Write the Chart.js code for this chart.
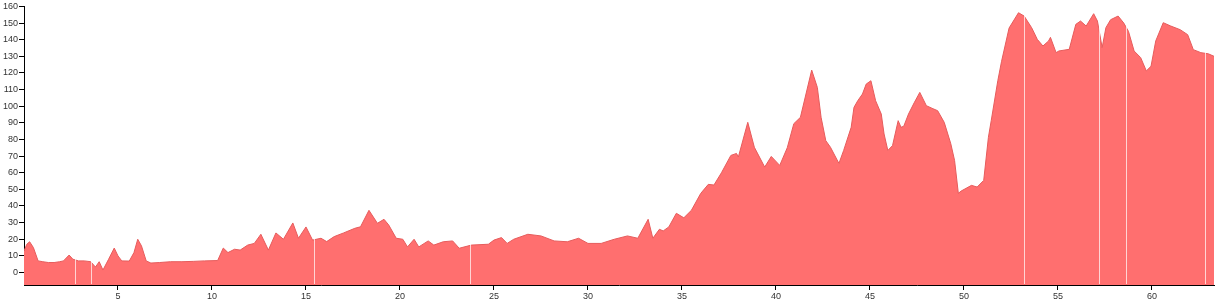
<!DOCTYPE html>
<html>

<head>
    <title>Profile</title>
    <script src="https://cdn.jsdelivr.net/npm/chart.js"></script>
    <style>
        body { margin: 0; background: #fff; }
        #wrap { width: 1217px; height: 306px; }
    </style>
</head>

<body>
    <div id="wrap">
        <canvas id="area-chart" width="1217" height="306"></canvas>
    </div>

    <script>
        // distance along the x axis
        var distances = [0.0, 0.15, 0.3, 0.5, 0.75, 1.0, 1.3, 1.6, 1.9, 2.1, 2.4, 2.6, 2.9, 3.2, 3.55, 3.8, 4.0, 4.2, 4.5, 4.8,
            5.0, 5.2, 5.6, 5.85, 6.05, 6.25, 6.5, 6.75, 7.2, 7.8, 8.4, 9.0, 9.6, 10.3, 10.6, 10.85, 11.2, 11.5, 11.9, 12.25,
            12.6, 13.0, 13.4, 13.8, 14.3, 14.6, 15.0, 15.35, 15.8, 16.1, 16.5, 17.0, 17.6, 17.9, 18.35, 18.8, 19.15, 19.4, 19.8, 20.15,
            20.4, 20.75, 21.0, 21.5, 21.8, 22.3, 22.8, 23.15, 23.8, 24.7, 25.0, 25.4, 25.7, 26.05, 26.8, 27.5, 28.2, 28.9, 29.5, 30.0,
            30.7, 31.4, 32.1, 32.65, 33.2, 33.45, 33.8, 34.0, 34.3, 34.7, 35.1, 35.5, 36.0, 36.4, 36.7, 37.1, 37.6, 37.9, 38.0, 38.5,
            38.85, 39.4, 39.75, 40.2, 40.6, 40.95, 41.3, 41.9, 42.2, 42.4, 42.65, 42.9, 43.35, 43.6, 44.0, 44.15, 44.35, 44.6, 44.8, 45.05,
            45.3, 45.6, 45.75, 45.95, 46.2, 46.5, 46.65, 46.8, 47.05, 47.35, 47.65, 48.0, 48.35, 48.6, 48.95, 49.3, 49.5, 49.7, 49.85, 50.4,
            50.7, 51.05, 51.3, 51.45, 51.8, 52.0, 52.4, 52.9, 53.2, 53.6, 53.9, 54.2, 54.5, 54.6, 54.9, 55.05, 55.6, 55.95, 56.2, 56.5,
            56.9, 57.1, 57.35, 57.55, 57.8, 58.2, 58.5, 58.75, 59.05, 59.4, 59.7, 59.95, 60.2, 60.6, 61.0, 61.5, 61.9, 62.2, 62.6, 63.0,
            63.3];

        // value at each distance
        var values = [13, 17, 18.5, 15, 7, 6.5, 6, 6, 6.5, 7, 10.5, 8, 7, 7, 6.5, 3.3, 6.5, 1.5, 8, 14.7,
            10, 7, 6.9, 12, 20, 16, 7, 5.7, 6, 6.5, 6.5, 6.7, 7, 7.2, 14.7, 12, 14, 13.5, 16.5, 17.5,
            23, 13.5, 23.8, 20, 29.8, 20.6, 27.4, 19.5, 20.6, 18.6, 21.6, 23.8, 26.6, 27.5, 37.4, 29.6, 32, 28.6, 20.6, 20,
            15.4, 20, 15.4, 19, 16.5, 18.5, 19, 14.6, 16.5, 17, 19.5, 21, 17.5, 20, 23, 22, 19, 18.5, 20.6, 17.5,
            17.5, 20, 22, 20.6, 32, 20.6, 26, 25, 27.4, 35.6, 32.9, 37.4, 47.6, 53, 52.6, 60, 70.4, 71.6, 69.5, 90.3,
            75.3, 63.4, 69.8, 64.4, 75, 89.5, 93.3, 121.7, 111.3, 93.3, 79.3, 75.3, 65.6, 73.4, 87.3, 99.3, 103.3, 107.3, 113.3, 115.3,
            103.3, 95.3, 83.3, 73.4, 76.3, 91.3, 87.3, 88, 95.3, 102, 108.3, 100.3, 98.5, 97.3, 90.3, 77.4, 67.4, 47.6, 49, 52.4,
            51.4, 55.4, 81.3, 91.3, 115.3, 127, 147, 156.2, 154.2, 147.2, 140.2, 136.2, 139.2, 141.4, 132.2, 133.2, 134.2, 149.2, 151.2, 148.2,
            155.6, 151.2, 135.2, 147.2, 152, 154.2, 150, 145, 133.2, 129.2, 121.2, 124, 139.2, 150.2, 148.2, 146, 143, 134, 132.2, 131.5,
            130];

        // thin breaks in the filled area
        var breaks = [2.7, 3.55, 15.4, 23.7, 53.2, 57.2, 58.6, 62.8];

        var yTicks = [0, 10, 20, 30, 40, 50, 60, 70, 80, 90, 100, 110, 120, 130, 140, 150, 160];
        var xTicks = [5, 10, 15, 20, 25, 30, 35, 40, 45, 50, 55, 60];

        var points = [];
        for (var i = 0; i < distances.length; i++) {
            points.push({ x: distances[i], y: values[i] });
        }

        // draw the white break lines only over the filled part
        var breakLines = {
            id: 'breakLines',
            afterDatasetsDraw: function (chart) {
                var ctx = chart.ctx;
                var area = chart.chartArea;
                var xScale = chart.scales.x;
                ctx.save();
                ctx.beginPath();
                ctx.rect(area.left, area.top, area.right - area.left, area.bottom - area.top - 1);
                ctx.clip();
                ctx.globalCompositeOperation = 'source-atop';
                ctx.strokeStyle = 'rgba(255,230,230,0.85)';
                ctx.lineWidth = 1;
                breaks.forEach(function (b) {
                    var px = Math.round(xScale.getPixelForValue(b)) + 0.5;
                    ctx.beginPath();
                    ctx.moveTo(px, area.top);
                    ctx.lineTo(px, area.bottom);
                    ctx.stroke();
                });
                ctx.restore();
            }
        };

        var axisFont = { family: '"Liberation Sans", Arial, sans-serif', size: 9 };

        new Chart(document.getElementById('area-chart').getContext('2d'), {
            type: 'line',
            data: {
                datasets: [{
                    data: points,
                    backgroundColor: '#ff6f6f',
                    borderColor: '#e65c5c',
                    borderWidth: 1,
                    fill: 'start',
                    pointRadius: 0,
                    tension: 0
                }]
            },
            plugins: [breakLines],
            options: {
                responsive: false,
                animation: false,
                layout: { padding: { top: 5, right: 3, left: 0, bottom: 0 } },
                plugins: {
                    legend: { display: false },
                    tooltip: { enabled: false }
                },
                scales: {
                    x: {
                        type: 'linear',
                        min: 0,
                        max: 63.3,
                        afterBuildTicks: function (scale) {
                            scale.ticks = xTicks.map(function (v) { return { value: v }; });
                        },
                        afterFit: function (scale) { scale.height = 21; },
                        grid: { drawOnChartArea: false, drawTicks: true, tickLength: 5, color: '#000' },
                        border: { display: true, color: '#000', width: 1 },
                        ticks: { font: axisFont, color: '#333', padding: 1, maxRotation: 0, autoSkip: false }
                    },
                    y: {
                        min: -7.5,
                        max: 160,
                        afterBuildTicks: function (scale) {
                            scale.ticks = yTicks.map(function (v) { return { value: v }; });
                        },
                        afterFit: function (scale) { scale.width = 24; },
                        grid: { drawOnChartArea: false, drawTicks: true, tickLength: 5, color: '#000' },
                        border: { display: true, color: '#000', width: 1 },
                        ticks: { font: axisFont, color: '#333', padding: 1, autoSkip: false }
                    }
                }
            }
        });
    </script>
</body>

</html>
